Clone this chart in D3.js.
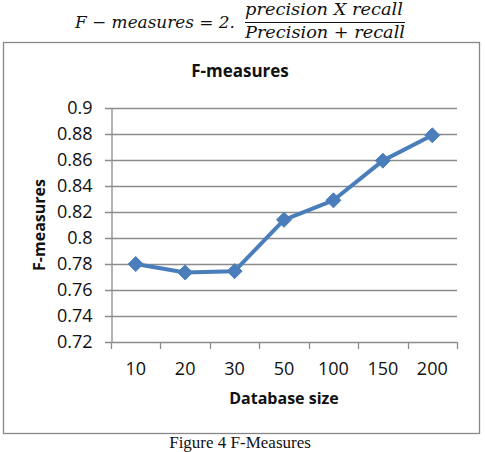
<!DOCTYPE html>
<html><head><meta charset="utf-8">
<script src="https://cdn.jsdelivr.net/npm/d3@7"></script>
<style>
html,body{margin:0;padding:0;background:#fff;}
svg{display:block;}
</style></head>
<body>
<svg id="c" width="485" height="452"></svg>
<script>
const categories = ["10","20","30","50","100","150","200"];
const fValues = [0.780, 0.7735, 0.7745, 0.814, 0.829, 0.8595, 0.879];
const yTicks = [0.72,0.74,0.76,0.78,0.8,0.82,0.84,0.86,0.88,0.9];
const yTickLabels = ["0.72","0.74","0.76","0.78","0.8","0.82","0.84","0.86","0.88","0.9"];
const chartTitle = "F-measures";
const xTitle = "Database size";
const yTitle = "F-measures";
const caption = "Figure 4 F-Measures";

const svg = d3.select("#c");
const font = "'Open Sans', sans-serif";
const grid = "#8c8c8c";
const blue = "#4a7ebb";

// formula
const f = svg.append("g").attr("font-family","'DejaVu Serif', serif").attr("font-style","italic").attr("fill","#111");
f.append("text").attr("x",75).attr("y",28).attr("font-size",17).attr("textLength",160).attr("lengthAdjust","spacingAndGlyphs").text("F − measures = 2.");
f.append("text").attr("x",245).attr("y",15).attr("font-size",17).attr("textLength",158).attr("lengthAdjust","spacingAndGlyphs").text("precision X recall");
f.append("line").attr("x1",245).attr("x2",405).attr("y1",22.5).attr("y2",22.5).attr("stroke","#111").attr("stroke-width",1.2);
f.append("text").attr("x",245).attr("y",38).attr("font-size",17).attr("textLength",160).attr("lengthAdjust","spacingAndGlyphs").text("Precision + recall");

// chart box
svg.append("rect").attr("x",3.5).attr("y",42.5).attr("width",476).attr("height",391).attr("fill","#fff").attr("stroke","#888").attr("stroke-width",1.3);

const x = d3.scaleBand().domain(categories).range([111,457]).padding(0);
const y = d3.scaleLinear().domain([0.72,0.9]).range([342,108]);

// gridlines
svg.append("g").selectAll("line").data(yTicks).join("line")
  .attr("x1",105).attr("x2",457).attr("y1",d=>Math.round(y(d))+0.5).attr("y2",d=>Math.round(y(d))+0.5)
  .attr("stroke",grid).attr("stroke-width",1.3);

// y axis
const ya = svg.append("g").attr("transform","translate(111.5,0)")
  .call(d3.axisLeft(y).tickValues(yTicks).tickFormat((d,i)=>yTickLabels[i]).tickSize(6).tickPadding(13).tickSizeOuter(0));
ya.select(".domain").attr("stroke",grid).attr("stroke-width",1.3);
ya.selectAll(".tick line").remove();
ya.selectAll("text").attr("font-family",font).attr("font-size",18).attr("fill","#111");

// x axis
const xa = svg.append("g").attr("transform","translate(0,342.5)")
  .call(d3.axisBottom(x).tickSize(0).tickPadding(0).tickSizeOuter(0));
xa.select(".domain").remove();
xa.selectAll("text").attr("font-family",font).attr("font-size",18).attr("fill","#111").attr("dy",null).attr("y",32);
const bounds = categories.map(c=>x(c)).concat([x(categories[categories.length-1])+x.bandwidth()]);
svg.append("g").selectAll("line").data(bounds).join("line")
  .attr("x1",d=>Math.round(d)+0.5).attr("x2",d=>Math.round(d)+0.5).attr("y1",342).attr("y2",349)
  .attr("stroke",grid).attr("stroke-width",1.3);

// line
const pts = categories.map((c,i)=>[x(c)+x.bandwidth()/2, y(fValues[i])]);
svg.append("path").attr("d",d3.line()(pts)).attr("fill","none").attr("stroke",blue).attr("stroke-width",4).attr("stroke-linejoin","round");
svg.append("g").selectAll("path").data(pts).join("path")
  .attr("transform",d=>`translate(${d[0]},${d[1]})`)
  .attr("d","M0,-7.5L7.5,0L0,7.5L-7.5,0Z").attr("fill",blue).attr("stroke",blue).attr("stroke-width",1);

// titles
svg.append("text").attr("x",240).attr("y",77).attr("text-anchor","middle").attr("font-family",font).attr("font-weight","bold").attr("font-size",17).attr("fill","#111").text(chartTitle);
svg.append("text").attr("x",284).attr("y",404).attr("text-anchor","middle").attr("font-family",font).attr("font-weight","bold").attr("font-size",16).attr("fill","#111").text(xTitle);
svg.append("text").attr("transform","translate(45,225) rotate(-90)").attr("text-anchor","middle").attr("font-family",font).attr("font-weight","bold").attr("font-size",16).attr("fill","#111").text(yTitle);

// caption
svg.append("text").attr("x",240).attr("y",448).attr("text-anchor","middle").attr("font-family","'Liberation Serif', serif").attr("font-size",17).attr("fill","#111").text(caption);
</script>
</body></html>
